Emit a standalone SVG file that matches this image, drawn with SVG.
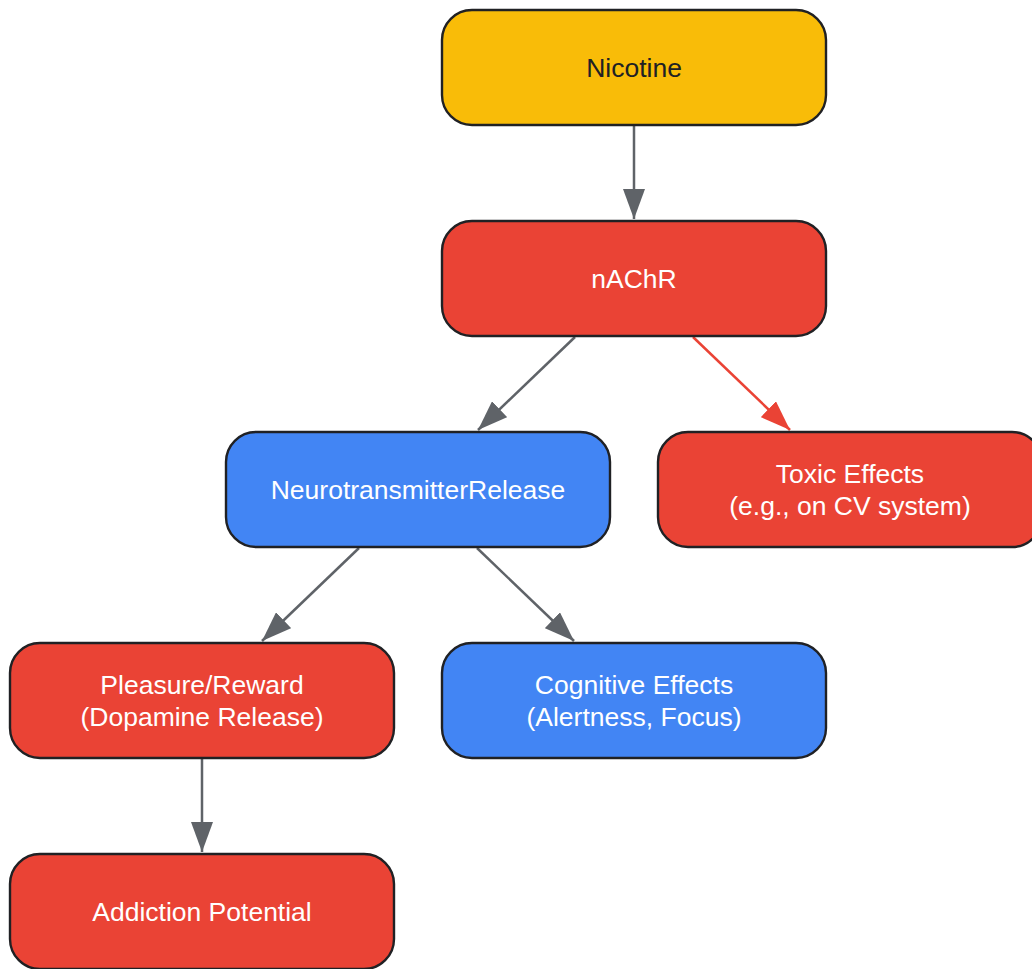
<svg xmlns="http://www.w3.org/2000/svg" width="1032" height="969" viewBox="0 0 1032 969">
<style>
.node{stroke:#202124;stroke-width:2.4}
.y{fill:#f9bc08}.r{fill:#ea4335}.b{fill:#4285f4}
text{font-family:"Liberation Sans",Arial,sans-serif;font-size:26.5px;text-anchor:middle}
.dk{fill:#202124}.wt{fill:#ffffff}
.e{fill:none;stroke:#5f6368;stroke-width:2.5}
.er{fill:none;stroke:#ea4335;stroke-width:2.5}
</style>
<defs>
<marker id="mg" viewBox="0 0 30 22" refX="30" refY="11" markerWidth="30" markerHeight="22" markerUnits="userSpaceOnUse" orient="auto">
<path d="M0,0 L30,11 L0,22 z" fill="#5f6368"/>
</marker>
<marker id="mr" viewBox="0 0 30 22" refX="30" refY="11" markerWidth="30" markerHeight="22" markerUnits="userSpaceOnUse" orient="auto">
<path d="M0,0 L30,11 L0,22 z" fill="#ea4335"/>
</marker>
</defs>
<g id="connectors">
<line class="e" x1="634" y1="125" x2="634" y2="219" marker-end="url(#mg)"/>
<line class="e" x1="575" y1="337" x2="478" y2="430" marker-end="url(#mg)"/>
<line class="er" x1="693" y1="337" x2="790" y2="430" marker-end="url(#mr)"/>
<line class="e" x1="359" y1="548" x2="262" y2="641" marker-end="url(#mg)"/>
<line class="e" x1="477" y1="548" x2="574" y2="641" marker-end="url(#mg)"/>
<line class="e" x1="202" y1="759" x2="202" y2="852" marker-end="url(#mg)"/>
</g>
<g id="nicotine">
<rect class="node y" x="442" y="10" width="384" height="115" rx="30"/>
<text class="dk" x="634" y="77">Nicotine</text>
</g>
<g id="nachr">
<rect class="node r" x="442" y="221" width="384" height="115" rx="30"/>
<text class="wt" x="634" y="288">nAChR</text>
</g>
<g id="neurotransmitter">
<rect class="node b" x="226" y="432" width="384" height="115" rx="30"/>
<text class="wt" x="418" y="499">NeurotransmitterRelease</text>
</g>
<g id="toxic">
<rect class="node r" x="658" y="432" width="384" height="115" rx="30"/>
<text class="wt" x="850" y="483">Toxic Effects</text>
<text class="wt" x="850" y="515">(e.g., on CV system)</text>
</g>
<g id="pleasure">
<rect class="node r" x="10" y="643" width="384" height="115" rx="30"/>
<text class="wt" x="202" y="694">Pleasure/Reward</text>
<text class="wt" x="202" y="726">(Dopamine Release)</text>
</g>
<g id="cognitive">
<rect class="node b" x="442" y="643" width="384" height="115" rx="30"/>
<text class="wt" x="634" y="694">Cognitive Effects</text>
<text class="wt" x="634" y="726">(Alertness, Focus)</text>
</g>
<g id="addiction">
<rect class="node r" x="10" y="854" width="384" height="115" rx="30"/>
<text class="wt" x="202" y="921">Addiction Potential</text>
</g>
</svg>
